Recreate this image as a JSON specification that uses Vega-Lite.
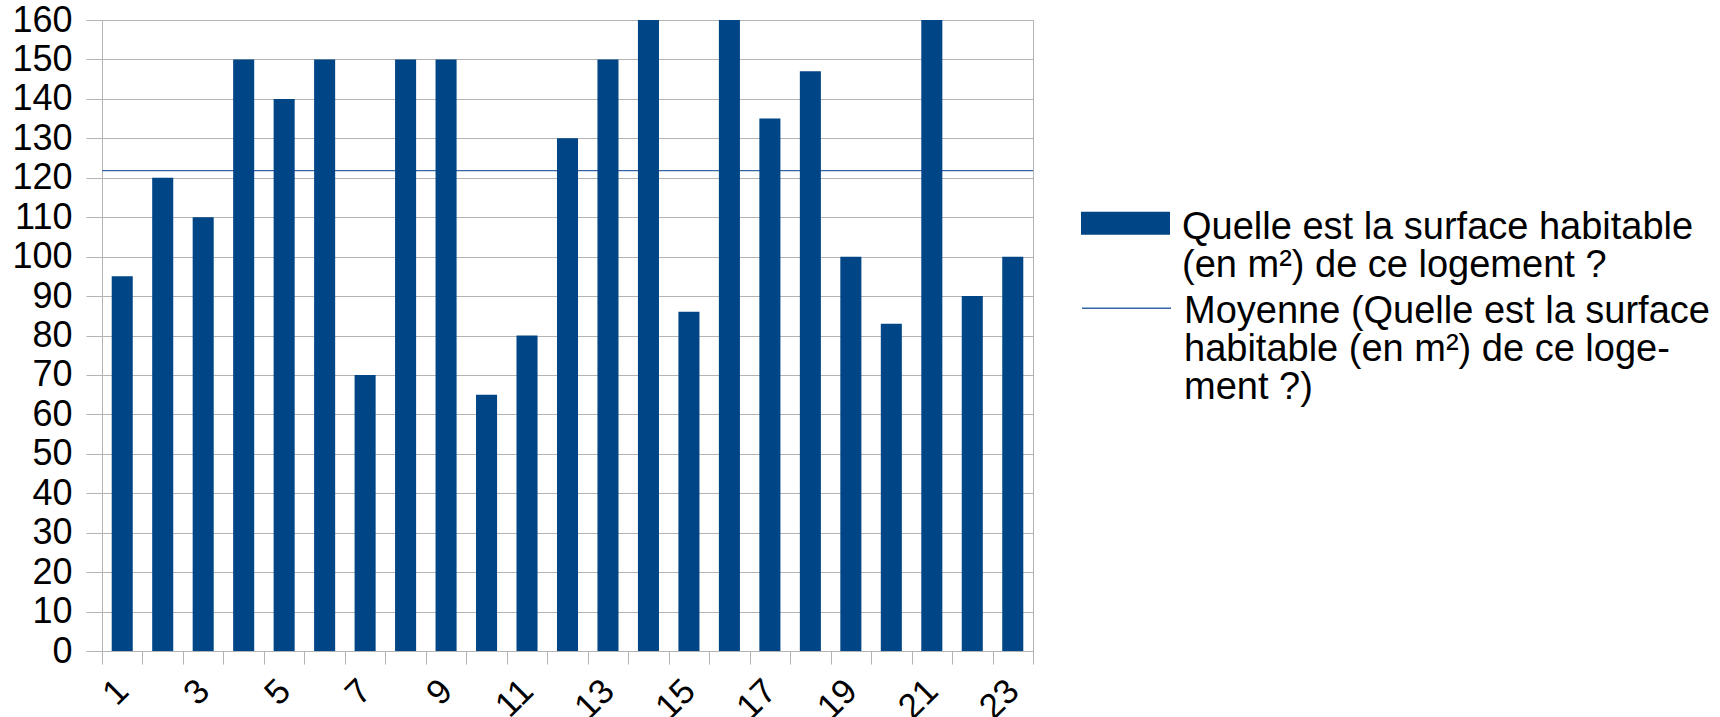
{
  "$schema": "https://vega.github.io/schema/vega-lite/v6.json",
  "width": 931,
  "height": 631,
  "autosize": {"type": "none"},
  "padding": {"left": 102, "top": 20, "right": 687, "bottom": 66},
  "config": {
    "font": "Liberation Sans",
    "view": {"stroke": "#b3b3b3", "strokeWidth": 1},
    "axis": {
      "gridColor": "#b3b3b3",
      "tickColor": "#b3b3b3",
      "domainColor": "#b3b3b3",
      "gridWidth": 1,
      "tickWidth": 1,
      "labelColor": "#000000",
      "labelFont": "Liberation Sans",
      "labelFontSize": 35
    },
    "axisY": {
      "title": null,
      "values": [0, 10, 20, 30, 40, 50, 60, 70, 80, 90, 100, 110, 120, 130, 140, 150, 160],
      "tickSize": 16,
      "labelPadding": 14,
      "labelFontSize": 36,
      "labelOverlap": false,
      "labelBound": false,
      "domain": false,
      "grid": true
    },
    "legend": {"labelFont": "Liberation Sans", "labelColor": "#000000"},
    "style": {"guide-label": {"lineHeight": 38}}
  },
  "data": {
    "values": [
      {"n": 1, "value": 95},
      {"n": 2, "value": 120},
      {"n": 3, "value": 110},
      {"n": 4, "value": 150},
      {"n": 5, "value": 140},
      {"n": 6, "value": 150},
      {"n": 7, "value": 70},
      {"n": 8, "value": 150},
      {"n": 9, "value": 150},
      {"n": 10, "value": 65},
      {"n": 11, "value": 80},
      {"n": 12, "value": 130},
      {"n": 13, "value": 150},
      {"n": 14, "value": 165},
      {"n": 15, "value": 86},
      {"n": 16, "value": 175},
      {"n": 17, "value": 135},
      {"n": 18, "value": 147},
      {"n": 19, "value": 100},
      {"n": 20, "value": 83},
      {"n": 21, "value": 160},
      {"n": 22, "value": 90},
      {"n": 23, "value": 100}
    ]
  },
  "layer": [
    {
      "mark": {"type": "rule", "strokeWidth": 1.3},
      "encoding": {
        "y": {
          "aggregate": "mean",
          "field": "value",
          "type": "quantitative",
          "scale": {"domain": [0, 160], "nice": false, "zero": true},
          "axis": {
            "title": null,
            "values": [0, 10, 20, 30, 40, 50, 60, 70, 80, 90, 100, 110, 120, 130, 140, 150, 160],
            "labelOverlap": false
          }
        },
        "stroke": {
          "datum": "Moyenne (Quelle est la surface|habitable (en m²) de ce loge-|ment ?)",
          "type": "nominal",
          "scale": {"range": ["#3465a4"]},
          "legend": {
            "title": null,
            "orient": "none",
            "legendX": 979,
            "legendY": 227,
            "padding": 0,
            "symbolType": "M-1,0.354H1",
            "symbolSize": 7921,
            "symbolStrokeWidth": 1.3,
            "labelFontSize": 38,
            "labelOffset": 12,
            "labelLimit": 1000,
            "labelBaseline": "top",
            "labelExpr": "split(datum.value, '|')"
          }
        }
      }
    },
    {
      "mark": {"type": "bar", "clip": true, "width": {"band": 0.52}},
      "encoding": {
        "x": {
          "field": "n",
          "type": "ordinal",
          "scale": {"paddingInner": 0, "paddingOuter": 0},
          "axis": {
            "title": null,
            "tickBand": "extent",
            "tickSize": 13,
            "labelPadding": 21,
            "labelAngle": -45,
            "labelAlign": "right",
            "labelBaseline": "middle",
            "labelOverlap": false,
            "labelExpr": "datum.value % 2 == 1 ? datum.label : ''",
            "grid": false,
            "domain": true
          }
        },
        "y": {
          "field": "value",
          "type": "quantitative",
          "axis": {
            "title": null,
            "values": [0, 10, 20, 30, 40, 50, 60, 70, 80, 90, 100, 110, 120, 130, 140, 150, 160],
            "labelOverlap": false
          }
        },
        "fill": {
          "datum": "Quelle est la surface habitable|(en m²) de ce logement ?",
          "type": "nominal",
          "scale": {"range": ["#004586"]},
          "legend": {
            "title": null,
            "orient": "none",
            "legendX": 979,
            "legendY": 144,
            "padding": 0,
            "symbolType": "M-1,0.074H1V0.591H-1Z",
            "symbolSize": 7921,
            "symbolStrokeWidth": 0,
            "labelFontSize": 38,
            "labelOffset": 12,
            "labelLimit": 1000,
            "labelBaseline": "top",
            "labelExpr": "split(datum.value, '|')"
          }
        }
      }
    }
  ]
}
